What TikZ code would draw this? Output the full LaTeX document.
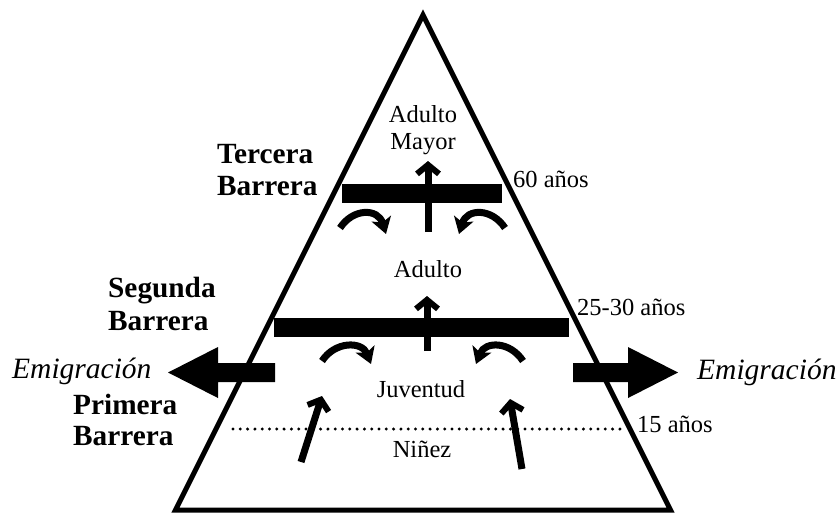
\documentclass[tikz,border=0pt]{standalone}
\usepackage{fontspec}
\setmainfont{Liberation Serif}
\usetikzlibrary{arrows.meta}
\begin{document}
\begin{tikzpicture}[x=1pt,y=-1pt,
  reg/.style={font=\fontsize{24.5}{27}\selectfont, inner sep=0pt},
  lab/.style={font=\bfseries\fontsize{29.3}{32}\selectfont, inner sep=0pt, anchor=base west},
  emi/.style={font=\itshape\fontsize{29.5}{32}\selectfont, inner sep=0pt, anchor=base west},
  barbox/.style={fill=black},
  uparrow/.style={line width=7pt, -{Straight Barb[length=9pt,width=22pt,line width=6pt]}},
  curvearrow/.style={line width=7pt, -{Stealth[length=16pt,width=20pt,inset=4pt]}},
]
\useasboundingbox (0,0) rectangle (840,512);
\fill[white] (0,0) rectangle (840,512);
% pyramid
\coordinate (apex) at (423,15);
\coordinate (bl) at (175.5,510);
\coordinate (br) at (670.5,510);
\draw[line width=5pt] (bl) -- (apex) -- (br) -- cycle;
% barriers
\fill[barbox] (342,184) rectangle (502,203);
\fill[barbox] (274,318) rectangle (569,337);
% vertical arrows
\coordinate (v1a) at (428,232); \coordinate (v1b) at (428,161);
\coordinate (v2a) at (427,351); \coordinate (v2b) at (427,296);
\draw[uparrow] (v1a) -- (v1b);
\draw[uparrow] (v2a) -- (v2b);
% curved arrows
\coordinate (c1a) at (340,228); \coordinate (c1b) at (386,234);
\coordinate (c2a) at (505,228); \coordinate (c2b) at (459,234);
\coordinate (c3a) at (322,361); \coordinate (c3b) at (371,364);
\coordinate (c4a) at (523,361); \coordinate (c4b) at (476,364);
\draw[curvearrow] (c1a) .. controls (353,208) and (378,208) .. (c1b);
\draw[curvearrow] (c2a) .. controls (492,208) and (467,208) .. (c2b);
\draw[curvearrow] (c3a) .. controls (335,341) and (362,341) .. (c3b);
\draw[curvearrow] (c4a) .. controls (510,341) and (485,341) .. (c4b);
% lower arrows
\coordinate (l1a) at (301,462); \coordinate (l1b) at (322,396);
\coordinate (l2a) at (522,469); \coordinate (l2b) at (510,399);
\draw[uparrow] (l1a) -- (l1b);
\draw[uparrow] (l2a) -- (l2b);
% emigration arrows
\fill (275,363) -- (218,363) -- (218,347) -- (168,372.5) -- (218,398) -- (218,382) -- (275,382) -- cycle;
\fill (573,363) -- (628,363) -- (628,347) -- (678,372.5) -- (628,398) -- (628,382) -- (573,382) -- cycle;
% dotted line
\coordinate (d1) at (233,429); \coordinate (d2) at (620,429);
\draw[line width=3.3pt, line cap=round, dash pattern=on 0pt off 7.3pt] (d1) -- (d2);
% texts
\node[reg, anchor=base] (t1) at (423,122) {Adulto};
\node[reg, anchor=base] (t2) at (423,149) {Mayor};
\node[reg, anchor=base west] (t3) at (513,187) {60 años};
\node[reg, anchor=base] (t4) at (428,277) {Adulto};
\node[reg, anchor=base west] (t5) at (577,315) {25-30 años};
\node[reg, anchor=base] (t6) at (421,397) {Juventud};
\node[reg, anchor=base] (t7) at (422,457) {Niñez};
\node[reg, anchor=base west] (t8) at (637,432) {15 años};
\node[lab] (b1) at (217,163) {Tercera};
\node[lab] (b2) at (217,195) {Barrera};
\node[lab] (b3) at (108,297) {Segunda};
\node[lab] (b4) at (108,330) {Barrera};
\node[lab] (b5) at (73,414) {Primera};
\node[lab] (b6) at (73,445) {Barrera};
\node[emi] (e1) at (12,378) {Emigración};
\node[emi] (e2) at (697,379) {Emigración};
\end{tikzpicture}
\end{document}
